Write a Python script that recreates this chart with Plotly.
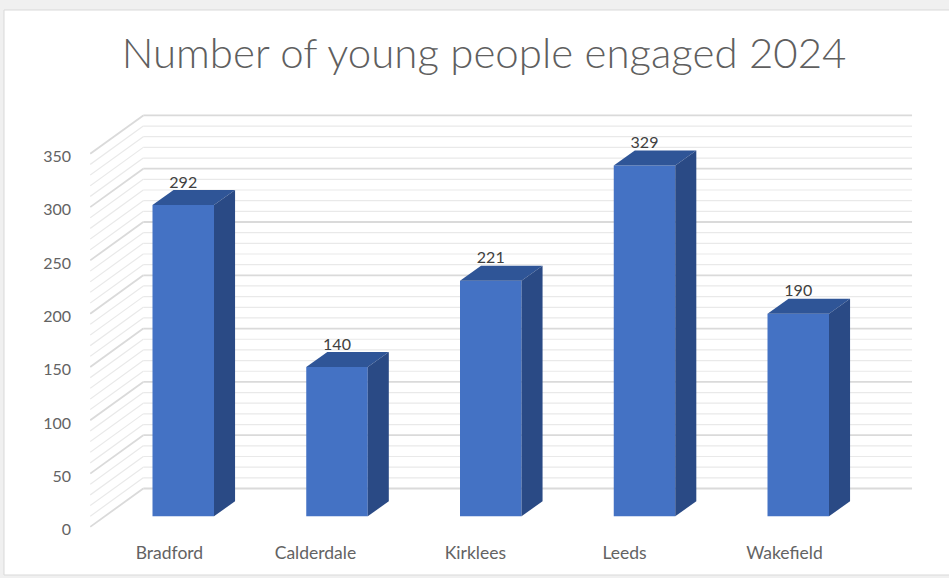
import plotly.graph_objects as go

# Chart content
categories = ["Bradford", "Calderdale", "Kirklees", "Leeds", "Wakefield"]
young_people = [292, 140, 221, 329, 190]
value_ticks = [0, 50, 100, 150, 200, 250, 300, 350]
minor_step = 10

# Pseudo-3D projection, in axis units
BAR_WIDTH = 0.4
BAR_FRONT = -26          # value-axis offset of each bar's front face
BAR_DEPTH_X = 0.137
BAR_DEPTH_Y = 14
WALL_LEFT = -0.26        # left edge of the back wall
WALL_RIGHT = 4.74        # right edge of the back wall
FLOOR_DX = -0.345        # shift from back wall to front edge of the side wall
FLOOR_DY = -36
TICK_DROP = -2.5         # value tick labels sit just under the line ends
LABEL_LIFT = 20
LABEL_NUDGE = [-0.09, -0.14, -0.10, -0.13, -0.09]

FRONT = "#4472c4"
TOP = "#2f5597"
SIDE = "#2a4a85"
TEXT = "#636363"
SANS = "Lato, Open Sans, sans-serif"

WIDTH, HEIGHT = 949, 578
M_LEFT, M_BOTTOM = 90, 38
X_RANGE = [(M_LEFT - 183.25) / 153.75, (WIDTH - 183.25) / 153.75]
Y_RANGE = [(488.5 - (HEIGHT - M_BOTTOM)) / 1.066, 488.5 / 1.066]

fig = go.Figure()


def wall_shapes(levels, colour, width):
    """Gridlines running along the back wall and down the side wall."""
    style = dict(type="line", layer="below", xref="x", yref="y",
                 line=dict(color=colour, width=width))
    shapes = []
    for v in levels:
        shapes.append(dict(x0=WALL_LEFT, x1=WALL_RIGHT, y0=v, y1=v, **style))
        shapes.append(dict(x0=WALL_LEFT, x1=WALL_LEFT + FLOOR_DX, y0=v, y1=v + FLOOR_DY, **style))
    return shapes


top_level = value_ticks[-1]
minor_levels = [v for v in range(0, top_level + 1, minor_step) if v not in value_ticks]

positions = list(range(len(categories)))

# Front faces
fig.add_trace(go.Bar(x=positions, y=young_people, base=BAR_FRONT, width=BAR_WIDTH,
                     marker=dict(color=FRONT, line=dict(width=0)),
                     showlegend=False, hoverinfo="skip"))

# Top and side faces
for pos, val in zip(positions, young_people):
    x0, x1 = pos - BAR_WIDTH / 2, pos + BAR_WIDTH / 2
    top = val + BAR_FRONT
    fig.add_trace(go.Scatter(
        x=[x0, x1, x1 + BAR_DEPTH_X, x0 + BAR_DEPTH_X, x0],
        y=[top, top, top + BAR_DEPTH_Y, top + BAR_DEPTH_Y, top],
        mode="lines", fill="toself", fillcolor=TOP, line=dict(width=0),
        hoverinfo="skip", showlegend=False))
    fig.add_trace(go.Scatter(
        x=[x1, x1 + BAR_DEPTH_X, x1 + BAR_DEPTH_X, x1, x1],
        y=[BAR_FRONT, BAR_FRONT + BAR_DEPTH_Y, top + BAR_DEPTH_Y, top, BAR_FRONT],
        mode="lines", fill="toself", fillcolor=SIDE, line=dict(width=0),
        hoverinfo="skip", showlegend=False))

# Value labels above each bar
fig.add_trace(go.Scatter(
    x=positions, y=[v + BAR_FRONT + LABEL_LIFT for v in young_people],
    mode="text", text=[str(v) for v in young_people],
    textposition="middle center",
    textfont=dict(family=SANS, size=16, color="#404040"),
    hoverinfo="skip", showlegend=False))

page = dict(type="rect", layer="below", xref="paper", yref="paper",
            x0=(4 - M_LEFT) / (WIDTH - M_LEFT), x1=(WIDTH + 5 - M_LEFT) / (WIDTH - M_LEFT),
            y0=-(575 - (HEIGHT - M_BOTTOM)) / (HEIGHT - M_BOTTOM),
            y1=(HEIGHT - M_BOTTOM - 10) / (HEIGHT - M_BOTTOM),
            fillcolor="white", line=dict(color="#d9d9d9", width=1))

fig.update_layout(
    width=WIDTH, height=HEIGHT, autosize=False,
    margin=dict(l=M_LEFT, r=0, t=0, b=M_BOTTOM, pad=0),
    paper_bgcolor="#f0f0f0", plot_bgcolor="rgba(0,0,0,0)",
    title=dict(text="Number of young people engaged 2024",
               font=dict(family="Lato Light, Lato, Open Sans, sans-serif", size=42, color="#5f5f5f"),
               x=484 / WIDTH, xanchor="center", y=1 - 53 / HEIGHT, yanchor="middle"),
    xaxis=dict(range=X_RANGE, showgrid=False, zeroline=False, showline=False,
               tickmode="array",
               tickvals=[p + n for p, n in zip(positions, LABEL_NUDGE)],
               ticktext=categories, ticks="", ticklabelstandoff=0,
               tickfont=dict(family=SANS, size=17.5, color=TEXT)),
    yaxis=dict(range=Y_RANGE, showgrid=False, zeroline=False, showline=False,
               tickmode="array",
               tickvals=[v + FLOOR_DY + TICK_DROP for v in value_ticks],
               ticktext=[str(v) for v in value_ticks], ticks="", ticklabelstandoff=18,
               tickfont=dict(family=SANS, size=16, color=TEXT)),
    shapes=[page] + wall_shapes(minor_levels, "#e9e9e9", 1.2) + wall_shapes(value_ticks, "#dadada", 1.8),
)

fig.write_html("out.html")
